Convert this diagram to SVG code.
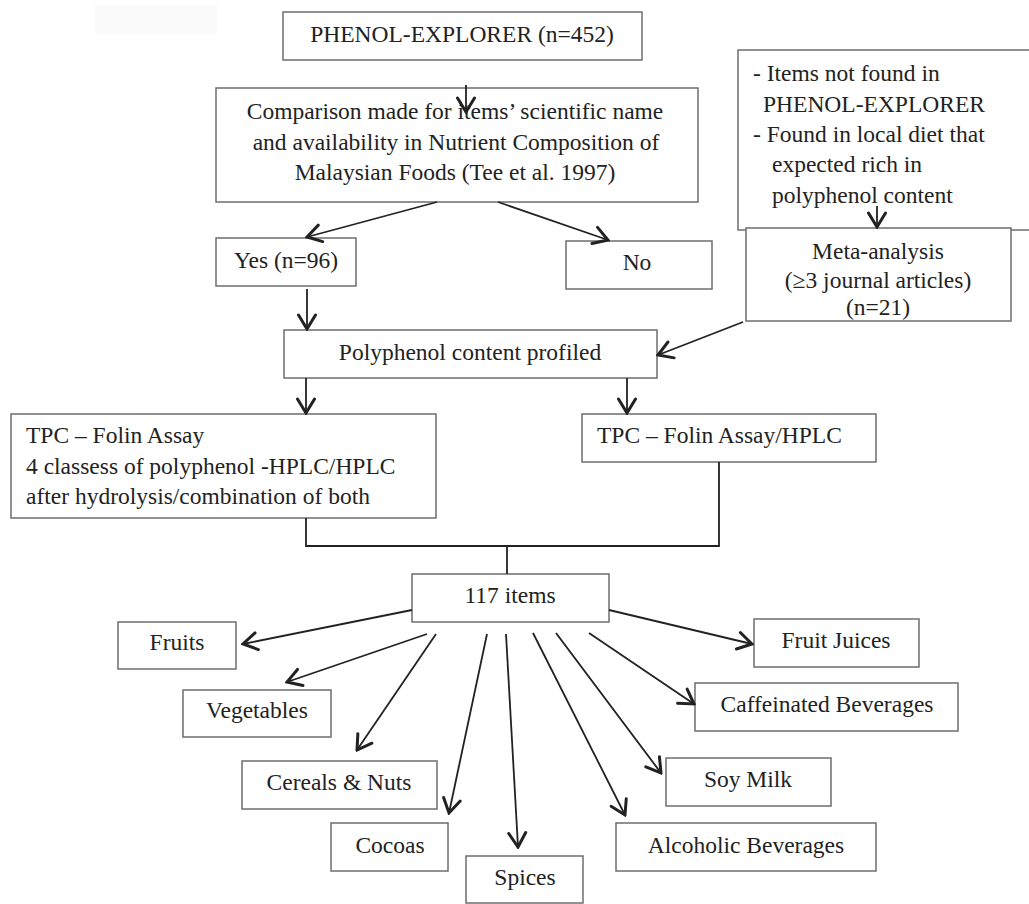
<svg xmlns="http://www.w3.org/2000/svg" width="1029" height="904" viewBox="0 0 1029 904">
<style>
.box{fill:#fff;stroke:#6e6e6e;stroke-width:1.5}
.t{font-family:"Liberation Serif","Times New Roman",serif;font-size:23.5px;fill:#222}
.c{text-anchor:middle}
.ln{fill:none;stroke:#222;stroke-width:1.8}
</style>
<defs>
<marker id="ah" viewBox="-17 -11 19 22" refX="0" refY="0" markerWidth="19" markerHeight="22" markerUnits="userSpaceOnUse" orient="auto">
<path d="M-14,-8.5 L0,0 L-14,8.5" fill="none" stroke="#222" stroke-width="3" stroke-linejoin="miter" stroke-linecap="round"/>
</marker>
</defs>
<rect width="1029" height="904" fill="#fff"/>
<rect x="95" y="5" width="122" height="29" fill="#fafafa"/>

<g id="phenol"><rect class="box" x="283" y="12" width="359" height="48"/><text class="t c" x="462" y="42">PHENOL-EXPLORER (n=452)</text></g>
<g id="comparison"><rect class="box" x="216" y="88" width="482" height="114"/>
<text class="t c" x="455" y="119">Comparison made for items’ scientific name</text>
<text class="t c" x="456" y="150">and availability in Nutrient Composition of</text>
<text class="t c" x="455" y="180">Malaysian Foods (Tee et al. 1997)</text></g>
<g id="notfound"><rect class="box" x="738" y="50" width="300" height="180"/>
<text class="t" x="753" y="81">- Items not found in</text>
<text class="t" x="763" y="112">PHENOL-EXPLORER</text>
<text class="t" x="753" y="142">- Found in local diet that</text>
<text class="t" x="772" y="172">expected rich in</text>
<text class="t" x="772" y="203">polyphenol content</text></g>
<g id="yes"><rect class="box" x="216" y="238" width="140" height="48"/><text class="t c" x="286" y="268">Yes (n=96)</text></g>
<g id="no"><rect class="box" x="566" y="241" width="146" height="48"/><text class="t c" x="637" y="270">No</text></g>
<g id="meta"><rect class="box" x="746" y="228" width="265" height="93"/>
<text class="t c" x="878" y="259">Meta-analysis</text>
<text class="t c" x="878" y="288">(≥3 journal articles)</text>
<text class="t c" x="878" y="315">(n=21)</text></g>
<g id="polyphenol"><rect class="box" x="284" y="330" width="373" height="48"/><text class="t c" x="470" y="360">Polyphenol content profiled</text></g>
<g id="tpcleft"><rect class="box" x="11" y="414" width="425" height="104"/>
<text class="t" x="26" y="443">TPC – Folin Assay</text>
<text class="t" x="26" y="474">4 classess of polyphenol -HPLC/HPLC</text>
<text class="t" x="26" y="504">after hydrolysis/combination of both</text></g>
<g id="tpcright"><rect class="box" x="582" y="414" width="294" height="48"/><text class="t" x="597" y="443">TPC – Folin Assay/HPLC</text></g>
<g id="items"><rect class="box" x="412" y="574" width="197" height="48"/><text class="t c" x="510" y="603">117 items</text></g>
<g id="fruits"><rect class="box" x="118" y="622" width="118" height="47"/><text class="t c" x="177" y="650">Fruits</text></g>
<g id="vegetables"><rect class="box" x="183" y="690" width="148" height="47"/><text class="t c" x="257" y="718">Vegetables</text></g>
<g id="cereals"><rect class="box" x="242" y="761" width="195" height="48"/><text class="t c" x="339" y="790">Cereals &amp; Nuts</text></g>
<g id="cocoas"><rect class="box" x="331" y="823" width="117" height="48"/><text class="t c" x="390" y="853">Cocoas</text></g>
<g id="spices"><rect class="box" x="466" y="856" width="117" height="47"/><text class="t c" x="525" y="885">Spices</text></g>
<g id="fruitjuices"><rect class="box" x="754" y="619" width="165" height="48"/><text class="t c" x="836" y="648">Fruit Juices</text></g>
<g id="caffeinated"><rect class="box" x="695" y="683" width="263" height="48"/><text class="t c" x="827" y="712">Caffeinated Beverages</text></g>
<g id="soymilk"><rect class="box" x="666" y="758" width="165" height="48"/><text class="t c" x="748" y="787">Soy Milk</text></g>
<g id="alcoholic"><rect class="box" x="616" y="823" width="260" height="48"/><text class="t c" x="746" y="853">Alcoholic Beverages</text></g>

<g id="connectors" class="ln">
<path class="ln" d="M466,85 L466,112" marker-end="url(#ah)"/>
<path class="ln" d="M437,202 L307,237" marker-end="url(#ah)"/>
<path class="ln" d="M498,202 L608,240" marker-end="url(#ah)"/>
<path class="ln" d="M877,206 L877,227" marker-end="url(#ah)"/>
<path class="ln" d="M307,289 L307,329" marker-end="url(#ah)"/>
<path class="ln" d="M743,322 L658,355" marker-end="url(#ah)"/>
<path class="ln" d="M306,378 L306,413" marker-end="url(#ah)"/>
<path class="ln" d="M627,378 L627,413" marker-end="url(#ah)"/>
<path class="ln" d="M306,518 L306,546 L719,546 L719,462"/>
<path class="ln" d="M507,546 L507,574"/>
<path class="ln" d="M412,610 L243,644" marker-end="url(#ah)"/>
<path class="ln" d="M427,634 L287,682" marker-end="url(#ah)"/>
<path class="ln" d="M436,634 L357,750" marker-end="url(#ah)"/>
<path class="ln" d="M487,634 L449,813" marker-end="url(#ah)"/>
<path class="ln" d="M506,634 L518,847" marker-end="url(#ah)"/>
<path class="ln" d="M533,633 L625,815" marker-end="url(#ah)"/>
<path class="ln" d="M556,633 L661,773" marker-end="url(#ah)"/>
<path class="ln" d="M589,633 L694,704" marker-end="url(#ah)"/>
<path class="ln" d="M609,610 L752,644" marker-end="url(#ah)"/>
</g>
</svg>
